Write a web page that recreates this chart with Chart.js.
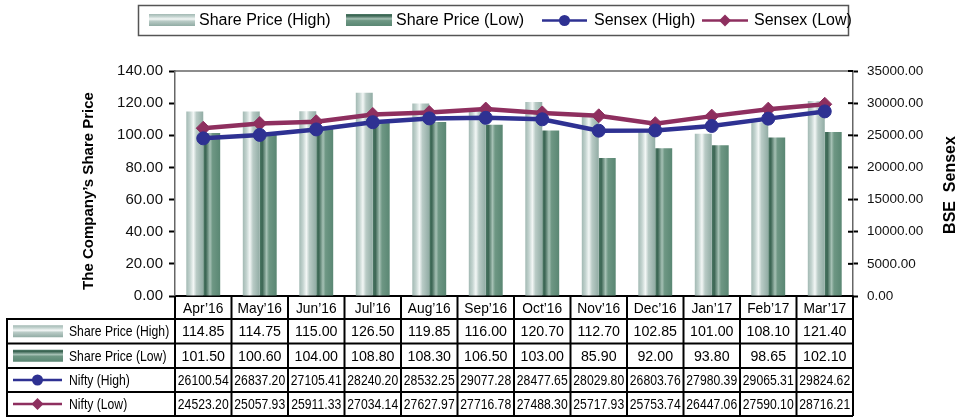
<!DOCTYPE html>
<html>
<head>
<meta charset="utf-8">
<script src="https://cdn.jsdelivr.net/npm/chart.js@4.4.0/dist/chart.umd.min.js"></script>
<style>
html,body{margin:0;padding:0;background:#fff;}
canvas{display:block;}
</style>
</head>
<body>
<canvas id="c" width="959" height="417"></canvas>
<script>
// ---- data ----
const months = ["Apr\u201916","May\u201916","Jun\u201916","Jul\u201916","Aug\u201916","Sep\u201916","Oct\u201916","Nov\u201916","Dec\u201916","Jan\u201917","Feb\u201917","Mar\u201917"];
const shareHigh = [114.85,114.75,115.00,126.50,119.85,116.00,120.70,112.70,102.85,101.00,108.10,121.40];
const shareLow  = [101.50,100.60,104.00,108.80,108.30,106.50,103.00,85.90,92.00,93.80,98.65,102.10];
const niftyHigh = [26100.54,26837.20,27105.41,28240.20,28532.25,29077.28,28477.65,28029.80,26803.76,27980.39,29065.31,29824.62];
const niftyLow  = [24523.20,25057.93,25911.33,27034.14,27627.97,27716.78,27488.30,25717.93,25753.74,26447.06,27590.10,28716.21];
const leftTicks = {min:0,max:140,step:20};
const rightTicks = {min:0,max:35000,step:5000};

// ---- styles ----
const SANS = "'Liberation Sans', Arial, Helvetica, sans-serif";
const BLUE = '#2e3192';
const MAG = '#8e2f5f';
const HIGH_STOPS = [[0,'#a2b9b3'],[0.22,'#c4d4d0'],[0.42,'#f3f7f6'],[0.6,'#b9cbc6'],[1,'#91aca4']];
const LOW_STOPS  = [[0,'#4d7966'],[0.15,'#3b6553'],[0.4,'#a6c1b5'],[0.55,'#6e9784'],[1,'#5a8773']];
const CAT_PCT = 0.6, BAR_PCT = 1.0;

function barGrad(c, stops, side){
  const chart = c.chart; const xs = chart.scales.x;
  if(!xs || !chart.chartArea) return stops[2][1];
  const cw = (xs.right - xs.left)/months.length;
  const g = cw*CAT_PCT; const bw = g/2*BAR_PCT;
  const center = xs.getPixelForValue(c.dataIndex);
  const x0 = side===0 ? center - g/2 : center;
  const grad = chart.ctx.createLinearGradient(x0,0,x0+bw,0);
  stops.forEach(s=>grad.addColorStop(s[0],s[1]));
  return grad;
}

function txt(ctx, s, x, y, font, align, sx, color){
  ctx.save();
  ctx.font = font; ctx.fillStyle = color||'#000';
  ctx.textAlign = align||'left'; ctx.textBaseline='middle';
  ctx.translate(x,y); ctx.scale(sx||1,1);
  ctx.fillText(s,0,0);
  ctx.restore();
}
function vSwatch(ctx, x, y, w, h, stops){
  const g = ctx.createLinearGradient(0,y,0,y+h);
  stops.forEach(s=>g.addColorStop(s[0],s[1]));
  ctx.fillStyle=g; ctx.fillRect(x,y,w,h);
}
function lineSwatch(ctx, x1, x2, y, color, style){
  ctx.save();
  ctx.strokeStyle=color; ctx.lineWidth=2.5;
  ctx.beginPath(); ctx.moveTo(x1,y); ctx.lineTo(x2,y); ctx.stroke();
  ctx.fillStyle=color;
  const cx=(x1+x2)/2;
  if(style==='circle'){ctx.beginPath(); ctx.arc(cx,y,5.5,0,Math.PI*2); ctx.fill();}
  else {ctx.beginPath(); ctx.moveTo(cx,y-6); ctx.lineTo(cx+6,y); ctx.lineTo(cx,y+6); ctx.lineTo(cx-6,y); ctx.closePath(); ctx.fill();}
  ctx.restore();
}

const customPlugin = {
  id:'custom',
  afterDraw(chart){
    const ctx = chart.ctx; const a = chart.chartArea; const xs = chart.scales.x;
    // top frame
    ctx.save(); ctx.strokeStyle='#666'; ctx.lineWidth=1.5;
    ctx.beginPath(); ctx.moveTo(a.left,a.top); ctx.lineTo(a.right,a.top); ctx.stroke();
    // inner ticks of right axis
    const y2 = chart.scales.y2;
    ctx.strokeStyle='#000'; ctx.lineWidth=2;
    for(let v=rightTicks.min; v<=rightTicks.max; v+=rightTicks.step){
      const py = y2.getPixelForValue(v);
      ctx.beginPath(); ctx.moveTo(a.right-5,py); ctx.lineTo(a.right,py); ctx.stroke();
    }
    ctx.restore();

    // axis titles
    ctx.save(); ctx.translate(89,191); ctx.rotate(-Math.PI/2);
    txt(ctx,"The Company\u2019s Share Price",0,0,"bold 15px "+SANS,'center');
    ctx.restore();
    ctx.save(); ctx.translate(951,185); ctx.rotate(-Math.PI/2);
    txt(ctx,"BSE  Sensex",0,0,"bold 16px "+SANS,'center');
    ctx.restore();

    // legend
    ctx.save();
    ctx.strokeStyle='#555'; ctx.lineWidth=1.5;
    ctx.strokeRect(138.5,5.5,710,30);
    ctx.restore();
    const ly = 20.5;
    vSwatch(ctx,149,14,46,12,HIGH_STOPS);
    txt(ctx,"Share Price (High)",199,ly,"16px "+SANS,'left');
    vSwatch(ctx,346,14,46,12,LOW_STOPS);
    txt(ctx,"Share Price (Low)",396,ly,"16px "+SANS,'left');
    lineSwatch(ctx,542,587,ly,BLUE,'circle');
    txt(ctx,"Sensex (High)",594,ly,"16px "+SANS,'left');
    lineSwatch(ctx,702,748,ly,MAG,'diamond');
    txt(ctx,"Sensex (Low)",754,ly,"16px "+SANS,'left');

    // data table
    const n = months.length;
    const cw = (xs.right - xs.left)/n;
    const bx = i => xs.left + cw*i;
    const hTop = a.bottom, hBot = 319;
    const rows = [319, 343.5, 368, 392, 416];
    ctx.save();
    ctx.strokeStyle='#000'; ctx.lineWidth=2;
    rows.forEach(y=>{ctx.beginPath(); ctx.moveTo(7,y); ctx.lineTo(bx(n),y); ctx.stroke();});
    for(let i=0;i<=n;i++){ctx.beginPath(); ctx.moveTo(bx(i),hTop); ctx.lineTo(bx(i),416); ctx.stroke();}
    ctx.beginPath(); ctx.moveTo(7,318); ctx.lineTo(7,417); ctx.stroke();
    ctx.restore();

    const NUMF = "14.5px "+SANS;
    const NAR = 0.84;
    for(let i=0;i<n;i++){
      const cx = bx(i)+cw/2;
      txt(ctx,months[i],cx,(hTop+hBot)/2+1,"14.5px "+SANS,'center',0.95);
      txt(ctx,shareHigh[i].toFixed(2),cx,(rows[0]+rows[1])/2+1,NUMF,'center',0.98);
      txt(ctx,shareLow[i].toFixed(2),cx,(rows[1]+rows[2])/2+1,NUMF,'center',0.98);
      txt(ctx,niftyHigh[i].toFixed(2),cx,(rows[2]+rows[3])/2+1,"14.5px "+SANS,'center',NAR);
      txt(ctx,niftyLow[i].toFixed(2),cx,(rows[3]+rows[4])/2+1,"14.5px "+SANS,'center',NAR);
    }
    const labF = "14.5px "+SANS;
    const rc = k => (rows[k]+rows[k+1])/2;
    vSwatch(ctx,13,rc(0)-6,50,12,HIGH_STOPS);
    txt(ctx,"Share Price (High)",69,rc(0)+1,labF,'left',NAR);
    vSwatch(ctx,13,rc(1)-6,50,12,LOW_STOPS);
    txt(ctx,"Share Price (Low)",69,rc(1)+1,labF,'left',NAR);
    lineSwatch(ctx,13,62,rc(2),BLUE,'circle');
    txt(ctx,"Nifty (High)",69,rc(2)+1,labF,'left',NAR);
    lineSwatch(ctx,13,62,rc(3),MAG,'diamond');
    txt(ctx,"Nifty (Low)",69,rc(3)+1,labF,'left',NAR);
  }
};

new Chart(document.getElementById('c'), {
  type:'bar',
  data:{
    labels: months,
    datasets:[
      {type:'bar',label:'Share Price (High)',data:shareHigh,yAxisID:'y',order:2,borderWidth:0,
        backgroundColor:c=>barGrad(c,HIGH_STOPS,0),categoryPercentage:CAT_PCT,barPercentage:BAR_PCT},
      {type:'bar',label:'Share Price (Low)',data:shareLow,yAxisID:'y',order:2,borderWidth:0,
        backgroundColor:c=>barGrad(c,LOW_STOPS,1),categoryPercentage:CAT_PCT,barPercentage:BAR_PCT},
      {type:'line',label:'Sensex (High)',data:niftyLow,yAxisID:'y2',order:0,
        borderColor:BLUE,backgroundColor:BLUE,borderWidth:4.5,tension:0,
        pointStyle:'circle',pointRadius:6.5,pointBorderWidth:1,pointBackgroundColor:BLUE,pointBorderColor:BLUE},
      {type:'line',label:'Sensex (Low)',data:niftyHigh,yAxisID:'y2',order:1,
        borderColor:MAG,backgroundColor:MAG,borderWidth:4.5,tension:0,
        pointStyle:'rectRot',pointRadius:7,pointBorderWidth:1,pointBackgroundColor:MAG,pointBorderColor:MAG}
    ]
  },
  options:{
    responsive:false, animation:false, devicePixelRatio:1,
    layout:{padding:{top:71,left:0,right:0,bottom:0}},
    plugins:{legend:{display:false},tooltip:{enabled:false},title:{display:false}},
    scales:{
      x:{grid:{display:false},ticks:{display:false},border:{color:'#000',width:2},
         afterFit(s){s.height=121;}},
      y:{position:'left',min:leftTicks.min,max:leftTicks.max,
         ticks:{stepSize:leftTicks.step,callback:v=>Number(v).toFixed(2),color:'#111',padding:6,
                font:{family:SANS,size:15}},
         grid:{drawOnChartArea:false,drawTicks:true,tickLength:6,color:'#000',tickWidth:2},
         border:{color:'#666',width:1.5},
         afterFit(s){s.width=175;}},
      y2:{position:'right',min:rightTicks.min,max:rightTicks.max,
         ticks:{stepSize:rightTicks.step,callback:v=>Number(v).toFixed(2),color:'#111',padding:9,
                font:{family:SANS,size:13.5}},
         grid:{drawOnChartArea:false,drawTicks:true,tickLength:5,color:'#000',tickWidth:2},
         border:{color:'#666',width:1.5},
         afterFit(s){s.width=106;}}
    }
  },
  plugins:[customPlugin]
});
</script>
</body>
</html>
